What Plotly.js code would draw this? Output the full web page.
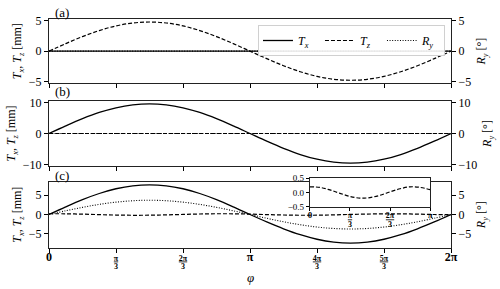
<!DOCTYPE html>
<html><head><meta charset="utf-8">
<script src="https://cdn.plot.ly/plotly-3.0.1.min.js"></script>
<style>html,body{margin:0;padding:0;background:#fff}</style>
</head><body>
<div id="chart" style="width:500px;height:289px"></div>
<script>
// phi sampled at k*pi/12, k = 0..24
const phiFrac = [0,1,2,3,4,5,6,7,8,9,10,11,12,13,14,15,16,17,18,19,20,21,22,23,24];
const phi = phiFrac.map(k => k * Math.PI / 12);

// Panel (a)
const Tx_a = [0,0,0,0,0,0,0,0,0,0,0,0,0,0,0,0,0,0,0,0,0,0,0,0,0];
const Tz_a = [0,1.24,2.40,3.39,4.16,4.64,4.80,4.64,4.16,3.39,2.40,1.24,0,-1.24,-2.40,-3.39,-4.16,-4.64,-4.80,-4.64,-4.16,-3.39,-2.40,-1.24,0];
const Ry_a = [0,0,0,0,0,0,0,0,0,0,0,0,0,0,0,0,0,0,0,0,0,0,0,0,0];
// Panel (b)
const Tx_b = [0,2.48,4.80,6.79,8.31,9.27,9.60,9.27,8.31,6.79,4.80,2.48,0,-2.48,-4.80,-6.79,-8.31,-9.27,-9.60,-9.27,-8.31,-6.79,-4.80,-2.48,0];
const Tz_b = [0,0,0,0,0,0,0,0,0,0,0,0,0,0,0,0,0,0,0,0,0,0,0,0,0];
const Ry_b = [0,0,0,0,0,0,0,0,0,0,0,0,0,0,0,0,0,0,0,0,0,0,0,0,0];
// Panel (c)
const Tx_c = [0,1.99,3.85,5.44,6.67,7.44,7.70,7.44,6.67,5.44,3.85,1.99,0,-1.92,-3.70,-5.23,-6.41,-7.15,-7.40,-7.15,-6.41,-5.23,-3.70,-1.92,0];
const Tz_c = [0.20,0.18,0.09,-0.03,-0.14,-0.20,-0.18,-0.10,0.02,0.13,0.20,0.18,0.10,-0.02,-0.13,-0.19,-0.18,-0.10,0.02,0.12,0.18,0.17,0.10,0.00,-0.05];
const Ry_c = [0,0.96,1.85,2.62,3.20,3.57,3.70,3.57,3.20,2.62,1.85,0.96,0,-0.97,-1.88,-2.65,-3.25,-3.62,-3.75,-3.62,-3.25,-2.65,-1.88,-0.97,0];
// Inset: T_z of panel (c) over [0, pi]
const insetCount = 13;

function frac(num){ return '<b><span style="font-size:8px;text-decoration:underline">' + num + '</span></b><br><b><span style="font-size:8px">3</span></b>'; }
function big(t, s){ return '<b><span style="font-size:' + s + 'px">' + t + '</span></b>'; }
const xTickVals = [0,1,2,3,4,5,6].map(k => k * Math.PI / 3);
const xTickText = [big('0',12), frac('π'), frac('2π'), big('π',12), frac('4π'), frac('5π'), big('2π',12)];
const insetTickVals = [0,1,2,3].map(k => k * Math.PI / 3);
const insetTickText = [big('0',9), frac('π'), frac('2π'), big('π',9)];

const FONT = '"Liberation Serif", "DejaVu Serif", serif';
const solid = {color:'#000', width:1.3, shape:'spline'};
const dashed = {color:'#000', width:1.2, dash:'4px,2px', shape:'spline'};
const dotted = {color:'#000', width:1.1, dash:'1px,1.6px', shape:'spline'};
const nameTx = '<i>T<sub>x</sub></i>', nameTz = '<i>T<sub>z</sub></i>', nameRy = '<i>R<sub>y</sub></i>';

const traces = [
  {x:phi, y:Tx_a, xaxis:'x', yaxis:'y', mode:'lines', line:solid, name:nameTx, legendgroup:'tx'},
  {x:phi, y:Tz_a, xaxis:'x', yaxis:'y', mode:'lines', line:dashed, name:nameTz, legendgroup:'tz'},
  {x:phi, y:Ry_a, xaxis:'x', yaxis:'y4', mode:'lines', line:dotted, name:nameRy, legendgroup:'ry'},
  {x:phi, y:Tx_b, xaxis:'x2', yaxis:'y2', mode:'lines', line:solid, showlegend:false},
  {x:phi, y:Tz_b, xaxis:'x2', yaxis:'y2', mode:'lines', line:dashed, showlegend:false},
  {x:phi, y:Ry_b, xaxis:'x2', yaxis:'y5', mode:'lines', line:dotted, showlegend:false},
  {x:phi, y:Tx_c, xaxis:'x3', yaxis:'y3', mode:'lines', line:solid, showlegend:false},
  {x:phi, y:Tz_c, xaxis:'x3', yaxis:'y3', mode:'lines', line:dashed, showlegend:false},
  {x:phi, y:Ry_c, xaxis:'x3', yaxis:'y6', mode:'lines', line:dotted, showlegend:false},
  {x:phi.slice(0,insetCount), y:Tz_c.slice(0,insetCount), xaxis:'x4', yaxis:'y7', mode:'lines', line:dashed, showlegend:false}
];

const tickFont = {family:FONT, size:12, color:'#000'};
const titleFont = {family:FONT, size:12, color:'#000'};
function xax(anchor, labels){
  return {domain:[0,1], anchor:anchor, range:[0,2*Math.PI], tickmode:'array', tickvals:xTickVals, ticktext:xTickText,
    showticklabels:labels, ticks:'outside', ticklen:4, tickcolor:'#000', showline:true, mirror:true, automargin:false,
    linecolor:'#222', linewidth:1, showgrid:false, zeroline:false, tickfont:{family:FONT, size:6.5, color:'#000'}};
}
function yleft(dom, rng, tv){
  return {domain:dom, anchor:null, range:rng, tickmode:'array', tickvals:tv, ticks:'outside', ticklen:4, tickcolor:'#000',
    showline:true, mirror:true, linecolor:'#222', linewidth:1, showgrid:false, zeroline:false, tickfont:tickFont, automargin:false,
    title:{text:'<i>T<sub>x</sub></i>, <i>T<sub>z</sub></i> [mm]', font:titleFont, standoff:4}};
}
function yright(over, rng, tv){
  return {overlaying:over, side:'right', range:rng, tickmode:'array', tickvals:tv, ticks:'outside', ticklen:4, tickcolor:'#000',
    showline:false, showgrid:false, zeroline:false, tickfont:tickFont, automargin:false,
    title:{text:'<i>R<sub>y</sub></i> [°]', font:titleFont, standoff:6}};
}
const ya = yleft([0.7118,0.9343], [-5.3,5.3], [-5,0,5]); ya.anchor='x';
const yb = yleft([0.4256,0.6505], [-10.5,10.5], [-10,0,10]); yb.anchor='x2';
const yc = yleft([0.1429,0.3713], [-8.6,8.5], [-5,0,5]); yc.anchor='x3';
const y4 = yright('y', [-5.3,5.3], [-5,0,5]); y4.anchor='x';
const y5 = yright('y2', [-10.5,10.5], [-10,0,10]); y5.anchor='x2';
const y6 = yright('y3', [-8.6,8.5], [-5,0,5]); y6.anchor='x3';

const layout = {
  width:500, height:289, margin:{l:49, r:49, t:0, b:0, autoexpand:false},
  paper_bgcolor:'#fff', plot_bgcolor:'#fff', showlegend:true,
  font:{family:FONT, size:12, color:'#000'},
  xaxis:xax('y', false), xaxis2:xax('y2', false), xaxis3:xax('y3', true),
  xaxis4:{domain:[0.649,0.948], anchor:'y7', range:[0,Math.PI], tickmode:'array', tickvals:insetTickVals, ticktext:insetTickText,
    ticks:'outside', ticklen:3, tickcolor:'#000', showline:true, mirror:true, linecolor:'#222', linewidth:1, automargin:false,
    showgrid:false, zeroline:false, tickfont:{family:FONT, size:6.5, color:'#000'}},
  yaxis:ya, yaxis2:yb, yaxis3:yc, yaxis4:y4, yaxis5:y5, yaxis6:y6,
  yaxis7:{domain:[0.285,0.383], anchor:'x4', range:[-0.5,0.5], tickmode:'array', tickvals:[-0.5,0,0.5], ticktext:['−0.5','0.0','0.5'],
    ticks:'outside', ticklen:3, tickcolor:'#000', showline:true, mirror:true, linecolor:'#222', linewidth:1, automargin:false,
    showgrid:false, zeroline:false, tickfont:{family:FONT, size:9, color:'#000'}},
  legend:{orientation:'h', x:0.985, xanchor:'right', y:0.9135, yanchor:'top', bgcolor:'rgba(255,255,255,0.9)',
    bordercolor:'#d0d0d0', borderwidth:1, font:{family:FONT, size:12, color:'#000'},
    entrywidth:17, entrywidthmode:'pixels', itemwidth:30, tracegroupgap:0},
  annotations:[
    {text:'(a)', xref:'paper', yref:'paper', x:0.01, y:0.958, xanchor:'left', yanchor:'middle', showarrow:false, font:{family:FONT, size:13, color:'#000'}},
    {text:'(b)', xref:'paper', yref:'paper', x:0.01, y:0.682, xanchor:'left', yanchor:'middle', showarrow:false, font:{family:FONT, size:13, color:'#000'}},
    {text:'(c)', xref:'paper', yref:'paper', x:0.01, y:0.394, xanchor:'left', yanchor:'middle', showarrow:false, font:{family:FONT, size:13, color:'#000'}},
    {text:'<i>φ</i>', xref:'paper', yref:'paper', x:0.5, y:0.0415, xanchor:'center', yanchor:'middle', showarrow:false, font:{family:FONT, size:13, color:'#000'}}
  ]
};
Plotly.newPlot('chart', traces, layout, {displayModeBar:false, staticPlot:true});
</script>
</body></html>
